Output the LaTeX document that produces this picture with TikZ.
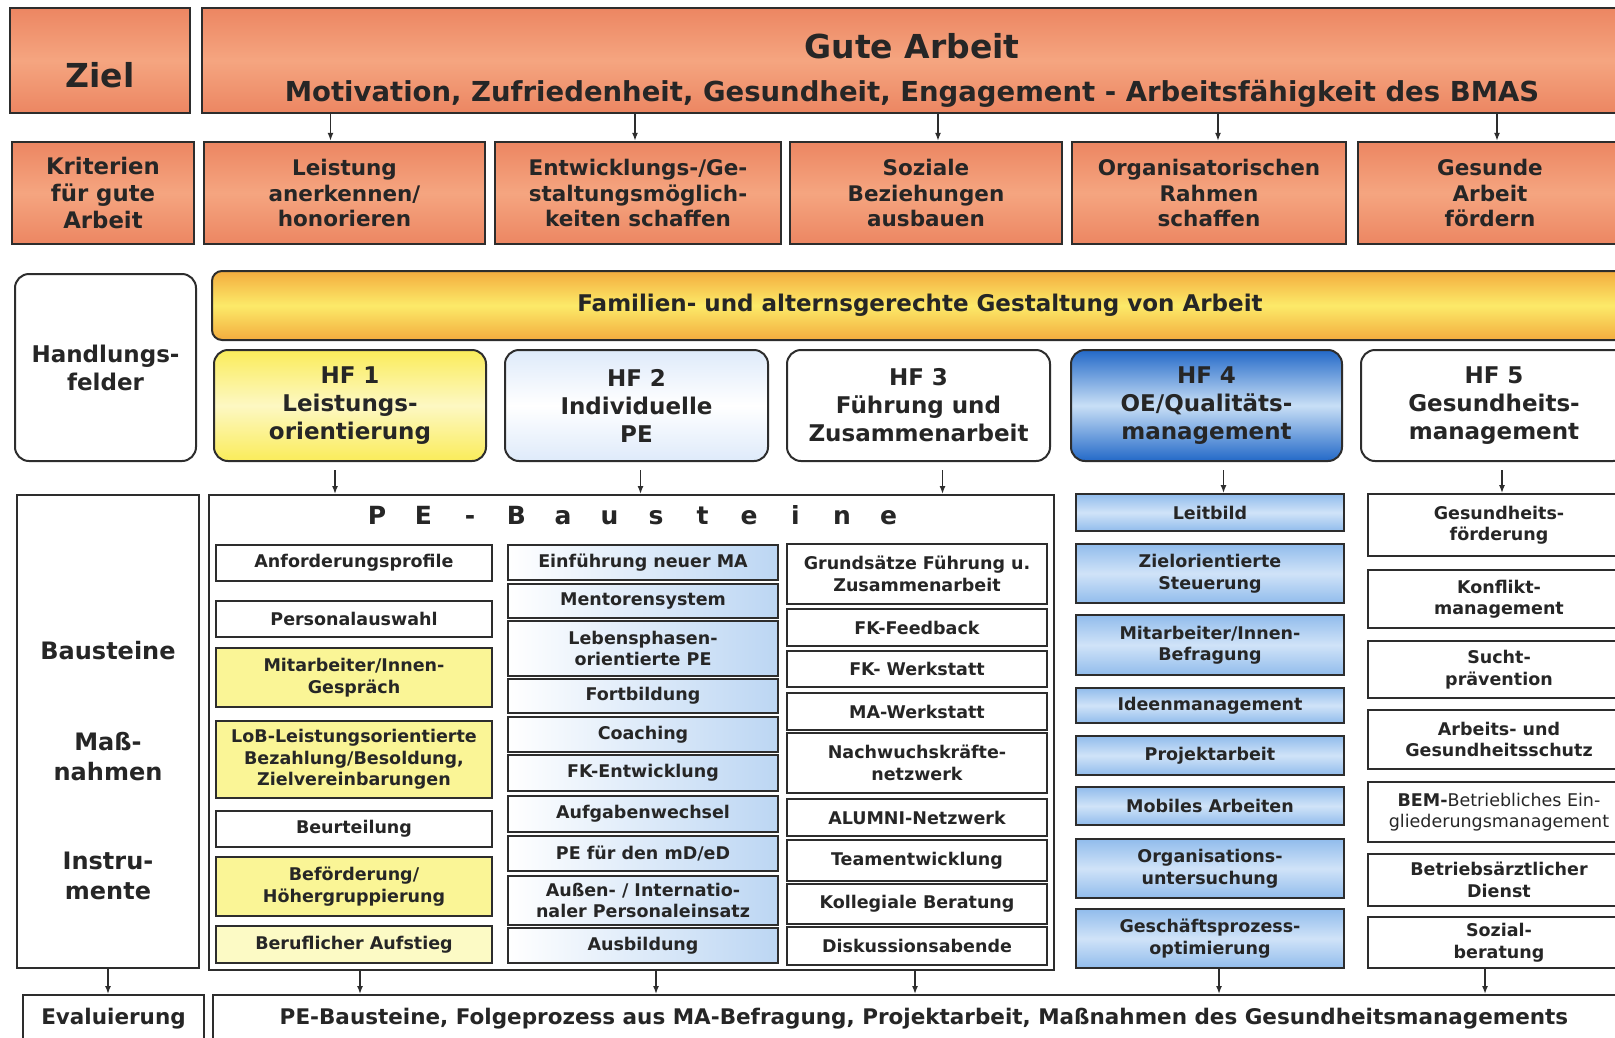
\documentclass[tikz,border=0pt]{standalone}
\usepackage{fontspec}
\setmainfont{DejaVu Sans}
\usetikzlibrary{arrows.meta}

\definecolor{linec}{RGB}{45,45,45}
\definecolor{textc}{RGB}{38,38,38}
\definecolor{salmonD}{RGB}{236,134,98}
\definecolor{salmonL}{RGB}{245,165,128}
\definecolor{famO}{RGB}{243,172,62}
\definecolor{famY}{RGB}{252,234,105}
\definecolor{hfY}{RGB}{250,236,90}
\definecolor{hfYL}{RGB}{253,248,195}
\definecolor{hfBP}{RGB}{222,234,250}
\definecolor{hfBD}{RGB}{35,105,200}
\definecolor{hfBL}{RGB}{200,223,246}
\definecolor{colB}{RGB}{188,214,243}
\definecolor{cfD}{RGB}{145,188,236}
\definecolor{cfL}{RGB}{208,227,248}
\definecolor{peyel}{RGB}{250,245,150}

\newcommand\txtS{\fontsize{17.5}{21.5}\selectfont\bfseries}
\newcommand\txtM{\fontsize{21.5}{25.5}\selectfont\bfseries}
\newcommand\txtH{\fontsize{23}{28}\selectfont\bfseries}
\newcommand\txtL{\fontsize{24}{30}\selectfont\bfseries}
\newcommand\txtT{\fontsize{27.5}{34}\selectfont\bfseries}
\newcommand\txtX{\fontsize{33}{40}\selectfont\bfseries}

\begin{document}
\begin{tikzpicture}[x=1pt, y=-1pt,
    box/.style={draw=linec, line width=2pt, inner sep=0pt, align=center, text=textc},
    topbox/.style={box, line width=2.4pt, top color=salmonD, bottom color=salmonD, middle color=salmonL},
    hfbox/.style={box, rounded corners=14pt, minimum height=111pt, font=\txtH},
    colbox/.style={box, line width=1.8pt, font=\txtS},
    evbox/.style={box, anchor=north, text height=29pt, text depth=60pt, font=\txtM},
    lbl/.style={font=\txtL, text=textc, align=center},
    arr/.style={line width=1.5pt, draw=linec, -{Latex[length=8pt,width=6pt]}},
    nudge/.style={transform canvas={xshift=#1}}]
  \useasboundingbox (0,0) rectangle (1615,1037);
  \clip (0,0) rectangle (1615,1037);
  \fill[white] (0,0) rectangle (1615,1037);

  % goal
  \node[topbox, minimum width=180pt, minimum height=105pt, text height=54pt, font=\txtX] (ziel) at (100,60.5) {Ziel};
  \node[topbox, minimum width=1420pt, minimum height=105pt] (gute) at (912,60.5) {};
  \node[font=\txtX, text=textc] (gtitle) at (912,46) {Gute Arbeit};
  \node[font=\txtT, text=textc] (gsub) at (912,94) {Motivation, Zufriedenheit, Gesundheit, Engagement - Arbeitsfähigkeit des BMAS};

  % criteria
  \node[topbox, minimum width=182pt, minimum height=102pt, font=\fontsize{22.8}{27}\selectfont\bfseries] (krit) at (103,193) {Kriterien\\für gute\\Arbeit};
  \foreach \x/\w/\dx/\t [count=\i] in {344.5/281/-14/{Leistung\\anerkennen/\\honorieren},
      638/286/-3/{Entwicklungs-/Ge-\\staltungsmöglich-\\keiten schaffen},
      926/272/12/{Soziale\\Beziehungen\\ausbauen},
      1209/274/9/{Organisatorischen\\Rahmen\\schaffen},
      1490/264/7/{Gesunde\\Arbeit\\fördern}}
  {
    \node[topbox, minimum width=\w*1pt, minimum height=102pt, font=\txtM] (k\i) at (\x,193) {\t};
    \draw[arr, nudge=\dx pt] (gute.south -| k\i.north) -- (k\i.north);
  }

  % fields of action
  \node[box, rounded corners=14pt, minimum width=181pt, minimum height=187pt, font=\txtH] (hfl) at (105.5,367.5) {Handlungs-\\felder};
  \node[box, rounded corners=10pt, minimum width=1416pt, minimum height=69pt, top color=famO, bottom color=famO, middle color=famY, font=\txtH] (fam) at (920,305.5) {Familien- und alternsgerechte Gestaltung von Arbeit};
  \node[hfbox, minimum width=272pt, top color=hfY, bottom color=hfY, middle color=hfYL] (hf1) at (350,405.5) {HF 1\\Leistungs-\\orientierung};
  \node[hfbox, minimum width=263pt, top color=hfBP, bottom color=hfBP, middle color=white] (hf2) at (636.5,405.5) {HF 2\\Individuelle\\PE};
  \node[hfbox, minimum width=263pt, fill=white] (hf3) at (918.5,405.5) {HF 3\\Führung und\\Zusammenarbeit};
  \node[hfbox, minimum width=271pt, top color=hfBD, bottom color=hfBD, middle color=hfBL] (hf4) at (1206.5,405.5) {HF 4\\OE/Qualitäts-\\management};
  \node[hfbox, minimum width=266pt, fill=white] (hf5) at (1494,405.5) {HF 5\\Gesundheits-\\management};

  % building blocks
  \node[box, minimum width=182pt, minimum height=473pt] (lbox) at (108,731.5) {};
  \node[lbl] (bst) at (108,651) {Bausteine};
  \node[lbl] (mas) at (108,757) {Maß-\\nahmen};
  \node[lbl] (ins) at (108,876) {Instru-\\mente};
  \node[box, minimum width=845pt, minimum height=475pt] (pe) at (631.5,732.5) {};
  \foreach \ch [count=\i from 0] in {P,E,-,B,a,u,s,t,e,i,n,e}
    \node[font=\fontsize{25}{25}\selectfont\bfseries, text=textc, anchor=base] (hd\i) at (377+\i*46.5,524) {\ch};

  % column 1
  \foreach \y/\h/\c/\t [count=\i] in {563/36/white/Anforderungsprofile,
      619/36/white/Personalauswahl,
      677.5/59/peyel/{Mitarbeiter/Innen-\\Gespräch},
      759.5/77/peyel/{LoB-Leistungsorientierte\\Bezahlung/Besoldung,\\Zielvereinbarungen},
      829/36/white/Beurteilung,
      886.5/59/peyel/{Beförderung/\\Höhergruppierung},
      944.5/37/peyel!55!white/{Beruflicher Aufstieg}}
    \node[colbox, fill=\c, minimum width=276pt, minimum height=\h*1pt] (a\i) at (354,\y) {\t};

  % column 2
  \foreach \y/\h/\t [count=\i] in {562.5/35/{Einführung neuer MA},
      601/34/Mentorensystem,
      648.5/55/{Lebensphasen-\\orientierte PE},
      696/34/Fortbildung,
      734.5/35/Coaching,
      773/36/FK-Entwicklung,
      814/36/Aufgabenwechsel,
      853.5/35/{PE für den mD/eD},
      900.5/49/{Außen- / Internatio-\\naler Personaleinsatz},
      945.5/35/Ausbildung}
    \node[colbox, left color=white, right color=colB, minimum width=270pt, minimum height=\h*1pt] (b\i) at (643,\y) {\t};

  % column 3
  \foreach \y/\h/\t [count=\i] in {574/60/{Grundsätze Führung u.\\Zusammenarbeit},
      627.5/37/FK-Feedback,
      669/36/{FK- Werkstatt},
      711.5/37/MA-Werkstatt,
      763/60/{Nachwuchskräfte-\\netzwerk},
      817.5/37/ALUMNI-Netzwerk,
      860.5/41/Teamentwicklung,
      904/40/{Kollegiale Beratung},
      946/38/Diskussionsabende}
    \node[colbox, fill=white, minimum width=260pt, minimum height=\h*1pt] (c\i) at (917,\y) {\t};

  % column 4
  \foreach \y/\h/\t [count=\i] in {512.5/37/Leitbild,
      573.5/59/{Zielorientierte\\Steuerung},
      645/60/{Mitarbeiter/Innen-\\Befragung},
      705.5/35/Ideenmanagement,
      755.5/39/Projektarbeit,
      806/38/{Mobiles Arbeiten},
      868.5/59/{Organisations-\\untersuchung},
      938.5/59/{Geschäftsprozess-\\optimierung}}
    \node[colbox, top color=cfD, bottom color=cfD, middle color=cfL, minimum width=268pt, minimum height=\h*1pt] (d\i) at (1210,\y) {\t};

  % column 5
  \foreach \y/\h/\t [count=\i] in {525/62/{Gesundheits-\\förderung},
      599/58/{Konflikt-\\management},
      669.5/57/{Sucht-\\prävention},
      739.5/59/{Arbeits- und\\Gesundheitsschutz},
      812/60/{{\bfseries BEM-}{\mdseries Betriebliches Ein-}\\{\mdseries gliederungsmanagement}},
      880/52/{Betriebsärztlicher\\Dienst},
      942.5/51/{Sozial-\\beratung}}
    \node[colbox, fill=white, minimum width=262pt, minimum height=\h*1pt] (e\i) at (1499,\y) {\t};

  % arrows from fields of action
  \foreach \n/\dx in {hf1/-15,hf2/4,hf3/24}
    \draw[arr, shorten <=8pt, nudge=\dx pt] (\n.south) -- (\n.south |- pe.north);
  \draw[arr, shorten <=8pt, nudge=17pt] (hf4.south) -- (hf4.south |- d1.north);
  \draw[arr, shorten <=8pt, nudge=8pt] (hf5.south) -- (hf5.south |- e1.north);

  % evaluation
  \node[evbox, minimum width=181pt] (evl) at (113.5,994) {Evaluierung};
  \node[evbox, minimum width=1422pt] (ev) at (924,994) {PE-Bausteine, Folgeprozess aus MA-Befragung, Projektarbeit, Maßnahmen des Gesundheitsmanagements};
  \draw[arr] (lbox.south) -- (lbox.south |- evl.north);
  \foreach \n/\dx in {a7/6,b10/13,c9/-2}
    \draw[arr, nudge=\dx pt] (\n.south |- pe.south) -- (\n.south |- ev.north);
  \draw[arr, nudge=9pt] (d8.south) -- (d8.south |- ev.north);
  \draw[arr, nudge=-14pt] (e7.south) -- (e7.south |- ev.north);
\end{tikzpicture}
\end{document}
